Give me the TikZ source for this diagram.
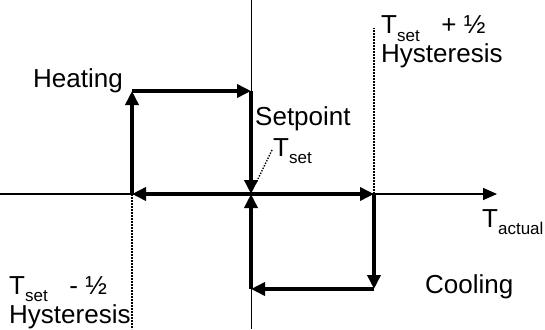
\documentclass[tikz,border=0pt]{standalone}
\usepackage{fontspec}
\setmainfont{Liberation Sans}
\usetikzlibrary{arrows.meta,calc}
\newcommand{\ssub}[1]{\raisebox{-0.3em}{\fontsize{17}{17}\selectfont #1}}

\begin{document}
\begin{tikzpicture}[x=1pt,y=-1pt,
   loopline/.style={line width=3.5pt,-{Triangle[length=14pt,width=13pt]}},
   hyst/.style={line width=1.6pt,dash pattern=on 1.6pt off 1.4pt},
   lbl/.style={inner sep=0pt,anchor=base west,font=\fontsize{26}{29}\selectfont,align=left}]
   \useasboundingbox (0,0) rectangle (545,329);
   % corner points of the two loops
   \coordinate (sp) at (251,194);
   \coordinate (lo) at (132,194);
   \coordinate (hi) at (374,194);
   \coordinate (heattop) at (132,91);
   \coordinate (settop) at (251,91);
   \coordinate (coolbot) at (374,289);
   \coordinate (setbot) at (251,289);
   % axes
   \draw[line width=1.6pt,-{Triangle[length=14pt,width=12pt]}] (0,194) -- (497,194);
   \draw[line width=1pt] (251,0) -- (251,329);
   \draw[hyst] (hi) -- (374,28);
   \draw[hyst] (lo) -- (132,329);
   % heating
   \draw[loopline] (lo) -- (heattop);
   \draw[loopline] (heattop) -- (settop);
   \draw[loopline] (settop) -- (sp);
   \draw[loopline] (sp) -- (lo);
   % cooling
   \draw[loopline] (sp) -- (hi);
   \draw[loopline] (hi) -- (coolbot);
   \draw[loopline] (coolbot) -- (setbot);
   \draw[loopline] (setbot) -- (sp);
   % labels
   \node[lbl] (heat) at (33,87) {Heating};
   \node[lbl] (cool) at (425,293) {Cooling};
   \node[lbl] (setp) at (255,125) {Setpoint};
   \node[lbl] (tset) at (273,156) {T\ssub{set}};
   \node[lbl] (tact) at (482,227) {T\ssub{actual}};
   \node[lbl] (plus) at (381,63) {T\ssub{set}\ \ \ + ½\\Hysteresis};
   \node[lbl] (minus) at (9,323) {T\ssub{set}\ \ \ - ½\\Hysteresis};
   \draw[line width=1.4pt,dash pattern=on 1.4pt off 1.4pt] (272,150) -- ($(sp)+(5,-11)$);
  \end{tikzpicture}
\end{document}
